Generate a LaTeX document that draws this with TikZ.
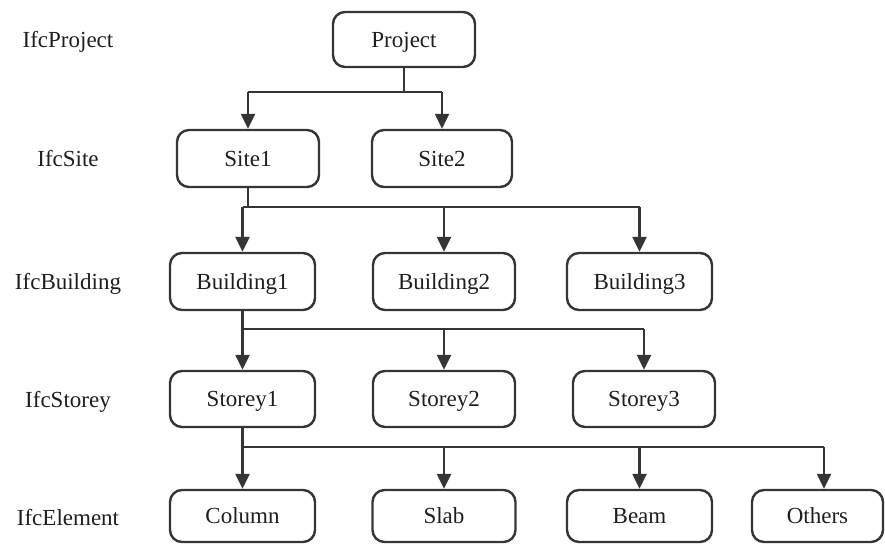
\documentclass[tikz,border=0pt]{standalone}
\usepackage{fontspec}
\setmainfont{Liberation Serif}
\usetikzlibrary{arrows.meta}
\definecolor{linegray}{HTML}{353535}
\definecolor{textgray}{HTML}{1E1E1E}
\begin{document}
\begin{tikzpicture}[x=1pt,y=-1pt,
  box/.style 2 args={draw=linegray, line width=2.4pt, rounded corners=12pt,
    minimum width=#1, minimum height=#2, inner sep=0pt,
    text height=15.5pt, text depth=0pt,
    font=\fontsize{23}{26}\selectfont, text=textgray},
  level/.style={font=\fontsize{23}{26}\selectfont, text=textgray, inner sep=0pt,
    text height=15.5pt, text depth=0pt},
  wire/.style={draw=linegray, line width=2.4pt},
  feed/.style={wire, -{Triangle[length=15pt,width=14pt]}}]
\useasboundingbox (0,0) rectangle (885,544);

% level labels
\node[level] (lproj) at (68,40)  {IfcProject};
\node[level] (lsite) at (68,159) {IfcSite};
\node[level] (lbldg) at (68,282) {IfcBuilding};
\node[level] (lstor) at (68,400) {IfcStorey};
\node[level] (lelem) at (68,518) {IfcElement};

% hierarchy boxes
\node[box={142pt}{55pt}] (proj) at (404,39.5) {Project};

\node[box={142pt}{57pt}] (site1) at (248,158.5) {Site1};
\node[box={140pt}{57pt}] (site2) at (442,158.5) {Site2};

\node[box={145pt}{57pt}] (bldg1) at (242.5,281.5) {Building1};
\node[box={142pt}{57pt}] (bldg2) at (444,281.5)   {Building2};
\node[box={145pt}{57pt}] (bldg3) at (639.5,281.5) {Building3};

\node[box={145pt}{56pt}] (stor1) at (242.5,399) {Storey1};
\node[box={142pt}{56pt}] (stor2) at (444,399)   {Storey2};
\node[box={142pt}{56pt}] (stor3) at (644,399)   {Storey3};

\node[box={145pt}{52pt}] (col)  at (242.5,516) {Column};
\node[box={143pt}{52pt}] (slab) at (444,516)   {Slab};
\node[box={145pt}{52pt}] (beam) at (639.5,516) {Beam};
\node[box={131pt}{52pt}] (oth)  at (817.5,516) {Others};

% bus heights
\coordinate (bus1) at (0,92);
\coordinate (bus2) at (0,207);
\coordinate (bus3) at (0,329);
\coordinate (bus4) at (0,447);
\coordinate (othin) at (824,447);

% project -> sites
\draw[wire] (proj.south) -- (proj.south |- bus1);
\draw[wire] (site1.north |- bus1) -- (site2.north |- bus1);
\draw[feed] (site1.north |- bus1) -- (site1.north);
\draw[feed] (site2.north |- bus1) -- (site2.north);

% site1 -> buildings
\draw[wire] (site1.south) -- (site1.south |- bus2);
\draw[wire] (bldg1.north |- bus2) -- (bldg3.north |- bus2);
\draw[feed] (bldg1.north |- bus2) -- (bldg1.north);
\draw[feed] (bldg2.north |- bus2) -- (bldg2.north);
\draw[feed] (bldg3.north |- bus2) -- (bldg3.north);

% building1 -> storeys
\draw[wire] (bldg1.south) -- (bldg1.south |- bus3) -- (stor3.north |- bus3);
\draw[feed] (stor1.north |- bus3) -- (stor1.north);
\draw[feed] (stor2.north |- bus3) -- (stor2.north);
\draw[feed] (stor3.north |- bus3) -- (stor3.north);

% storey1 -> elements
\draw[wire] (stor1.south) -- (stor1.south |- bus4) -- (othin);
\draw[feed] (col.north |- bus4) -- (col.north);
\draw[feed] (slab.north |- bus4) -- (slab.north);
\draw[feed] (beam.north |- bus4) -- (beam.north);
\draw[feed] (othin) -- (othin |- oth.north);
\end{tikzpicture}
\end{document}
